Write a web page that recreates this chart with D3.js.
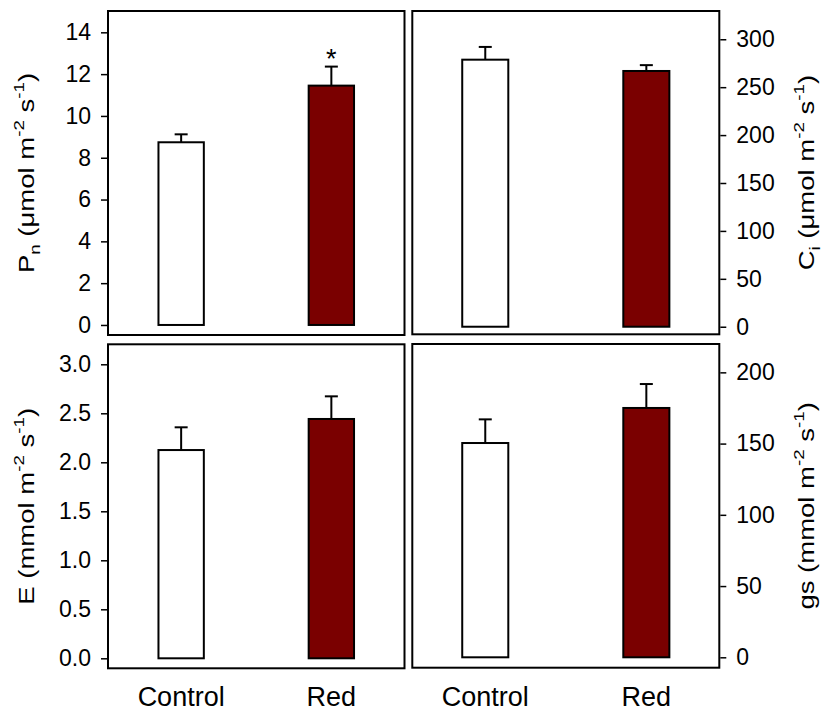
<!DOCTYPE html>
<html>
<head>
<meta charset="utf-8">
<script src="https://cdn.jsdelivr.net/npm/d3@7"></script>
<style>
  html, body { margin: 0; padding: 0; background: #fff; }
  svg { display: block; }
  text { font-family: "Liberation Sans", Arial, sans-serif; fill: #000; }
</style>
</head>
<body>
<svg id="chart" width="831" height="713"></svg>
<script>
// ---------- data ----------
const categories = ["Control", "Red"];
const pnMean = [8.74, 11.45];
const pnErr  = [0.38, 0.91];
const ciMean = [278.7, 266.9];
const ciErr  = [13.3, 6.1];
const eMean  = [2.125, 2.442];
const eErr   = [0.232, 0.231];
const gsMean = [150.4, 175.0];
const gsErr  = [16.6, 16.8];
const pnTicks = [0, 2, 4, 6, 8, 10, 12, 14];
const ciTicks = [0, 50, 100, 150, 200, 250, 300];
const eTicks  = [0, 0.5, 1.0, 1.5, 2.0, 2.5, 3.0];
const gsTicks = [0, 50, 100, 150, 200];
const significance = ["", "*"]; // Pn panel markers
const barColors = ["#ffffff", "#7a0000"];

// ---------- layout ----------
const svg = d3.select("#chart");

const panels = [
  { mean: pnMean, err: pnErr, ticks: pnTicks, fmt: d3.format("d"), domain: [-0.48, 15.02],
    x0: 108, x1: 404.5, y0: 11, y1: 335, side: "left", pi: 0.698, po: 0.336,
    title: [["P",""],["n","sub"],[" (\u03bcmol m",""],["-2","sup"],[" s",""],["-1","sup"],[")",""]],
    marks: significance, xlabels: false },
  { mean: ciMean, err: ciErr, ticks: ciTicks, fmt: d3.format("d"), domain: [-7.9, 329.5],
    x0: 412.3, x1: 719.3, y0: 11, y1: 334.3, side: "right", pi: 0.714, po: 0.31,
    title: [["C",""],["i","sub"],[" (\u03bcmol m",""],["-2","sup"],[" s",""],["-1","sup"],[")",""]],
    marks: null, xlabels: false },
  { mean: eMean, err: eErr, ticks: eTicks, fmt: d3.format(".1f"), domain: [-0.102, 3.204],
    x0: 108, x1: 404.5, y0: 344.3, y1: 668.3, side: "left", pi: 0.698, po: 0.336,
    title: [["E (mmol m",""],["-2","sup"],[" s",""],["-1","sup"],[")",""]],
    marks: null, xlabels: true },
  { mean: gsMean, err: gsErr, ticks: gsTicks, fmt: d3.format("d"), domain: [-7.3, 219.9],
    x0: 412.3, x1: 719.3, y0: 344, y1: 667.7, side: "right", pi: 0.714, po: 0.31,
    title: [["gs (mmol m",""],["-2","sup"],[" s",""],["-1","sup"],[")",""]],
    marks: null, xlabels: true }
];

panels.forEach(p => {
  const g = svg.append("g");
  const x = d3.scaleBand().domain(categories).range([p.x0, p.x1])
    .paddingInner(p.pi).paddingOuter(p.po);
  const y = d3.scaleLinear().domain(p.domain).range([p.y1, p.y0]);

  // bars
  g.selectAll("rect.bar").data(categories).join("rect")
    .attr("class", "bar")
    .attr("x", d => x(d))
    .attr("width", x.bandwidth())
    .attr("y", (d, i) => y(p.mean[i]))
    .attr("height", (d, i) => y(0) - y(p.mean[i]))
    .attr("fill", (d, i) => barColors[i])
    .attr("stroke", "#000").attr("stroke-width", 2);

  // error bars (upper only)
  const capW = 13;
  categories.forEach((c, i) => {
    const cx = x(c) + x.bandwidth() / 2;
    g.append("line").attr("x1", cx).attr("x2", cx)
      .attr("y1", y(p.mean[i])).attr("y2", y(p.mean[i] + p.err[i]))
      .attr("stroke", "#000").attr("stroke-width", 2);
    g.append("line").attr("x1", cx - capW / 2).attr("x2", cx + capW / 2)
      .attr("y1", y(p.mean[i] + p.err[i])).attr("y2", y(p.mean[i] + p.err[i]))
      .attr("stroke", "#000").attr("stroke-width", 2);
    if (p.marks && p.marks[i]) {
      g.append("text").attr("x", cx).attr("y", y(p.mean[i] + p.err[i]) + 1)
        .attr("text-anchor", "middle").style("font-size", "27px").text(p.marks[i]);
    }
  });

  // frame
  g.append("rect").attr("x", p.x0).attr("y", p.y0)
    .attr("width", p.x1 - p.x0).attr("height", p.y1 - p.y0)
    .attr("fill", "none").attr("stroke", "#000").attr("stroke-width", 2);

  // axis
  const axis = (p.side === "left" ? d3.axisLeft(y) : d3.axisRight(y))
    .tickValues(p.ticks).tickFormat(p.fmt).tickSize(6).tickPadding(10);
  const ax = g.append("g")
    .attr("transform", `translate(${p.side === "left" ? p.x0 - 1 : p.x1 + 1},0)`)
    .call(axis);
  ax.select(".domain").remove();
  ax.selectAll(".tick line").attr("stroke", "#000").attr("stroke-width", 1.5);
  ax.selectAll(".tick text").attr("fill", "#000")
    .style("font-family", "'Liberation Sans', Arial, sans-serif").style("font-size", "23px");

  // title (reference text is stretched along its reading direction)
  const cy = (p.y0 + p.y1) / 2;
  const tx = p.side === "left" ? 34 : 814;
  const t = g.append("text")
    .attr("transform", `translate(${tx},${cy}) rotate(-90) scale(1.25,1)`)
    .attr("text-anchor", "middle").style("font-size", "22px");
  let shift = 0;
  p.title.forEach(([s, kind]) => {
    const ts = t.append("tspan").text(s);
    let target = 0;
    if (kind === "sub") { target = 6; ts.style("font-size", "15px"); }
    else if (kind === "sup") { target = -10; ts.style("font-size", "15px"); }
    ts.attr("dy", target - shift);
    shift = target;
  });

  // x labels
  if (p.xlabels) {
    g.selectAll("text.xl").data(categories).join("text")
      .attr("class", "xl")
      .attr("x", d => x(d) + x.bandwidth() / 2)
      .attr("y", 706)
      .attr("text-anchor", "middle").style("font-size", "27px")
      .text(d => d);
  }
});
</script>
</body>
</html>
